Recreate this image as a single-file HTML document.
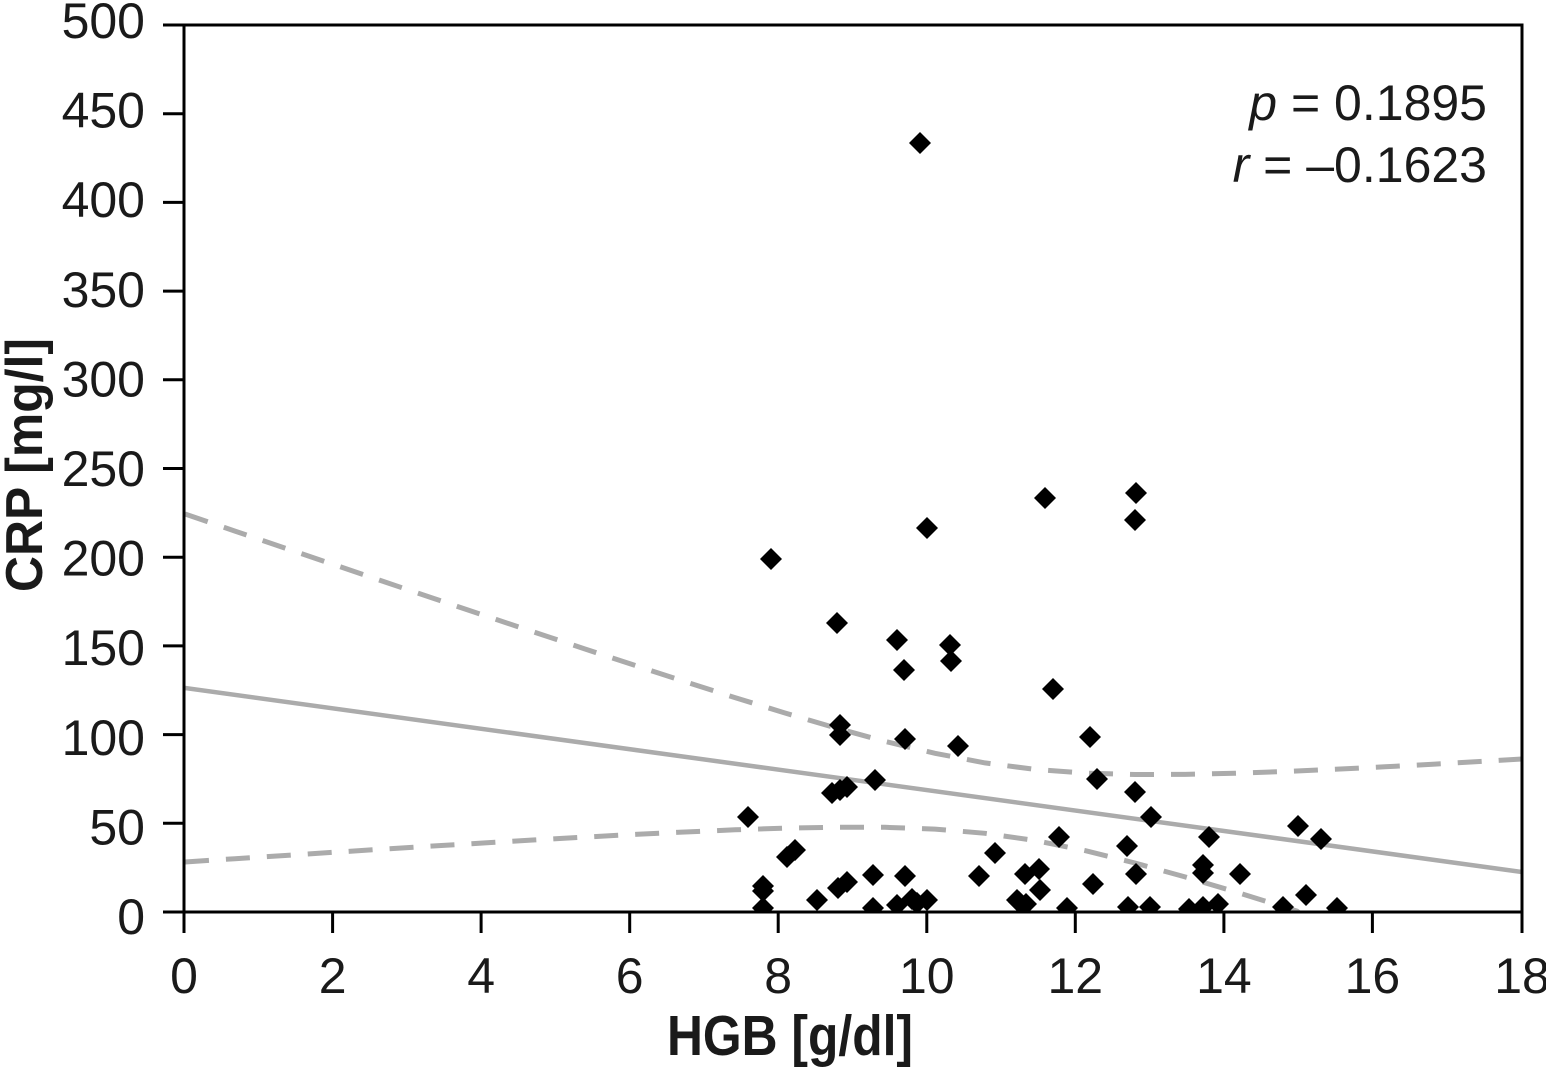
<!DOCTYPE html>
<html>
<head>
<meta charset="utf-8">
<style>
  html, body { margin: 0; padding: 0; background: #ffffff; }
  svg { display: block; }
  text { font-family: "Liberation Sans", sans-serif; fill: #1a1a1a; }
</style>
</head>
<body>
<svg width="1546" height="1067" viewBox="0 0 1546 1067" xmlns="http://www.w3.org/2000/svg">
  <defs>
    <clipPath id="plot">
      <rect x="185" y="25" width="1337" height="887"/>
    </clipPath>
  </defs>

  <g clip-path="url(#plot)" fill="none" stroke="#ababab">
    <line x1="185" y1="688" x2="1522" y2="872" stroke-width="4.5"/>
    <polyline stroke-width="5" stroke-dasharray="24 17" points="185,514.0 235,531.1 285,548.1 335,565.0 385,582.0 435,598.9 485,615.7 535,632.4 585,649.0 635,665.4 685,681.7 735,697.6 785,713.0 835,727.7 885,741.4 935,753.3 985,762.9 1035,769.4 1085,773.1 1135,774.5 1185,774.4 1235,773.3 1285,771.5 1335,769.3 1385,766.8 1435,764.1 1485,761.2 1522,759.0"/>
    <polyline stroke-width="5" stroke-dasharray="24 17" points="185,862.0 235,858.7 285,855.5 335,852.2 385,849.0 435,845.9 485,842.9 535,839.9 585,837.1 635,834.4 685,832.0 735,829.8 785,828.2 835,827.2 885,827.3 935,829.1 985,833.3 1035,840.5 1085,850.6 1135,863.0 1185,876.9 1235,891.7 1285,907.3 1297,911.1 1335,942"/>
  </g>

  <g clip-path="url(#plot)" fill="#000" stroke="none">
    <polygon points="920,132 931,143 920,154 909,143"/>
    <polygon points="771,548 782,559 771,570 760,559"/>
    <polygon points="927,517 938,528 927,539 916,528"/>
    <polygon points="1045,487 1056,498 1045,509 1034,498"/>
    <polygon points="1136,482 1147,493 1136,504 1125,493"/>
    <polygon points="1135,509 1146,520 1135,531 1124,520"/>
    <polygon points="837,612 848,623 837,634 826,623"/>
    <polygon points="897,629 908,640 897,651 886,640"/>
    <polygon points="950,634 961,645 950,656 939,645"/>
    <polygon points="951,650 962,661 951,672 940,661"/>
    <polygon points="904,659 915,670 904,681 893,670"/>
    <polygon points="1053,678 1064,689 1053,700 1042,689"/>
    <polygon points="840,714 851,725 840,736 829,725"/>
    <polygon points="840,724 851,735 840,746 829,735"/>
    <polygon points="905,728 916,739 905,750 894,739"/>
    <polygon points="958,735 969,746 958,757 947,746"/>
    <polygon points="1090,726 1101,737 1090,748 1079,737"/>
    <polygon points="1097,768 1108,779 1097,790 1086,779"/>
    <polygon points="875,769 886,780 875,791 864,780"/>
    <polygon points="1135,781 1146,792 1135,803 1124,792"/>
    <polygon points="832,782 843,793 832,804 821,793"/>
    <polygon points="840,779 851,790 840,801 829,790"/>
    <polygon points="847,776 858,787 847,798 836,787"/>
    <polygon points="1151,806 1162,817 1151,828 1140,817"/>
    <polygon points="748,806 759,817 748,828 737,817"/>
    <polygon points="1298,815 1309,826 1298,837 1287,826"/>
    <polygon points="1321,828 1332,839 1321,850 1310,839"/>
    <polygon points="1209,826 1220,837 1209,848 1198,837"/>
    <polygon points="1059,826 1070,837 1059,848 1048,837"/>
    <polygon points="1127,835 1138,846 1127,857 1116,846"/>
    <polygon points="787,846 798,857 787,868 776,857"/>
    <polygon points="795,839 806,850 795,861 784,850"/>
    <polygon points="995,842 1006,853 995,864 984,853"/>
    <polygon points="979,865 990,876 979,887 968,876"/>
    <polygon points="763,875 774,886 763,897 752,886"/>
    <polygon points="763,880 774,891 763,902 752,891"/>
    <polygon points="763,897 774,908 763,919 752,908"/>
    <polygon points="817,889 828,900 817,911 806,900"/>
    <polygon points="838,877 849,888 838,899 827,888"/>
    <polygon points="847,871 858,882 847,893 836,882"/>
    <polygon points="873,864 884,875 873,886 862,875"/>
    <polygon points="873,897 884,908 873,919 862,908"/>
    <polygon points="905,865 916,876 905,887 894,876"/>
    <polygon points="897,894 908,905 897,916 886,905"/>
    <polygon points="912,888 923,899 912,910 901,899"/>
    <polygon points="927,889 938,900 927,911 916,900"/>
    <polygon points="917,892 928,903 917,914 906,903"/>
    <polygon points="1017,889 1028,900 1017,911 1006,900"/>
    <polygon points="1025,863 1036,874 1025,885 1014,874"/>
    <polygon points="1039,858 1050,869 1039,880 1028,869"/>
    <polygon points="1040,879 1051,890 1040,901 1029,890"/>
    <polygon points="1093,873 1104,884 1093,895 1082,884"/>
    <polygon points="1136,863 1147,874 1136,885 1125,874"/>
    <polygon points="1203,854 1214,865 1203,876 1192,865"/>
    <polygon points="1203,862 1214,873 1203,884 1192,873"/>
    <polygon points="1240,863 1251,874 1240,885 1229,874"/>
    <polygon points="1019,891 1030,902 1019,913 1008,902"/>
    <polygon points="1026,893 1037,904 1026,915 1015,904"/>
    <polygon points="1067,897 1078,908 1067,919 1056,908"/>
    <polygon points="1128,896 1139,907 1128,918 1117,907"/>
    <polygon points="1150,896 1161,907 1150,918 1139,907"/>
    <polygon points="1189,898 1200,909 1189,920 1178,909"/>
    <polygon points="1203,896 1214,907 1203,918 1192,907"/>
    <polygon points="1218,893 1229,904 1218,915 1207,904"/>
    <polygon points="1306,884 1317,895 1306,906 1295,895"/>
    <polygon points="1283,896 1294,907 1283,918 1272,907"/>
    <polygon points="1337,897 1348,908 1337,919 1326,908"/>
  </g>

  <g stroke="#000" stroke-width="3" fill="none">
    <line x1="163" y1="25" x2="1523.5" y2="25"/>
    <line x1="163" y1="912" x2="1523.5" y2="912"/>
    <line x1="184" y1="23.5" x2="184" y2="933"/>
    <line x1="1522" y1="23.5" x2="1522" y2="933"/>
    <line x1="163" y1="113.7" x2="184" y2="113.7"/>
    <line x1="163" y1="202.4" x2="184" y2="202.4"/>
    <line x1="163" y1="291.1" x2="184" y2="291.1"/>
    <line x1="163" y1="379.8" x2="184" y2="379.8"/>
    <line x1="163" y1="468.5" x2="184" y2="468.5"/>
    <line x1="163" y1="557.2" x2="184" y2="557.2"/>
    <line x1="163" y1="645.9" x2="184" y2="645.9"/>
    <line x1="163" y1="734.6" x2="184" y2="734.6"/>
    <line x1="163" y1="823.3" x2="184" y2="823.3"/>
    <line x1="332.6" y1="912" x2="332.6" y2="933"/>
    <line x1="481.1" y1="912" x2="481.1" y2="933"/>
    <line x1="629.7" y1="912" x2="629.7" y2="933"/>
    <line x1="778.2" y1="912" x2="778.2" y2="933"/>
    <line x1="926.8" y1="912" x2="926.8" y2="933"/>
    <line x1="1075.3" y1="912" x2="1075.3" y2="933"/>
    <line x1="1223.9" y1="912" x2="1223.9" y2="933"/>
    <line x1="1372.4" y1="912" x2="1372.4" y2="933"/>
  </g>

  <g font-size="50" text-anchor="end">
    <text x="145" y="38">500</text>
    <text x="145" y="127.6">450</text>
    <text x="145" y="217.2">400</text>
    <text x="145" y="306.8">350</text>
    <text x="145" y="396.4">300</text>
    <text x="145" y="486">250</text>
    <text x="145" y="575.6">200</text>
    <text x="145" y="665.2">150</text>
    <text x="145" y="754.8">100</text>
    <text x="145" y="844.4">50</text>
    <text x="145" y="934">0</text>
  </g>

  <g font-size="50" text-anchor="middle">
    <text x="184" y="993">0</text>
    <text x="332.6" y="993">2</text>
    <text x="481.1" y="993">4</text>
    <text x="629.7" y="993">6</text>
    <text x="778.2" y="993">8</text>
    <text x="926.8" y="993">10</text>
    <text x="1075.3" y="993">12</text>
    <text x="1223.9" y="993">14</text>
    <text x="1372.4" y="993">16</text>
    <text x="1522" y="993">18</text>
  </g>

  <text x="667" y="1055" font-size="57" font-weight="bold" textLength="246" lengthAdjust="spacingAndGlyphs">HGB [g/dl]</text>
  <text transform="translate(42,592) rotate(-90)" x="0" y="0" font-size="52" font-weight="bold" textLength="254" lengthAdjust="spacingAndGlyphs">CRP [mg/l]</text>

  <text x="1487" y="120" font-size="50" text-anchor="end"><tspan font-style="italic">p</tspan> = 0.1895</text>
  <text x="1487" y="182" font-size="50" text-anchor="end"><tspan font-style="italic">r</tspan> = –0.1623</text>
</svg>
</body>
</html>
